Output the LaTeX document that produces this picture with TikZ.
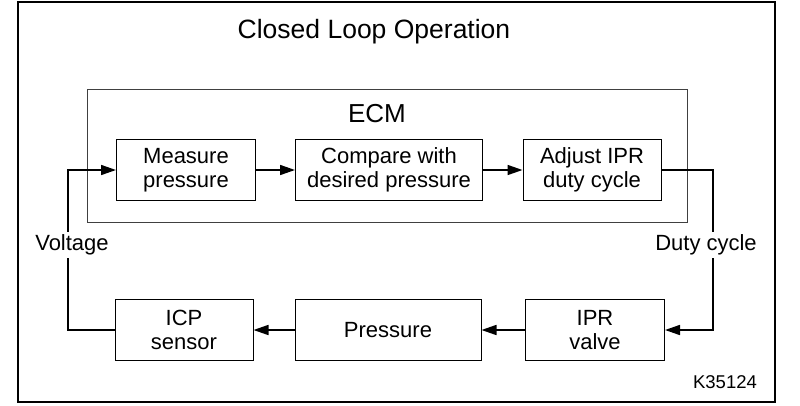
\documentclass[tikz,border=0pt]{standalone}
\usepackage{fontspec}
\setmainfont{Liberation Sans}
\usetikzlibrary{arrows.meta}

\begin{document}
\begin{tikzpicture}[x=1pt,y=-1pt]
\useasboundingbox (0,0) rectangle (800,405);
\draw[line width=2.2pt] (18,2) rectangle (775,402);
\node (title) at (374,32) {\fontsize{26.5}{30}\selectfont Closed Loop Operation};
\draw[line width=0.9pt,black!75] (87,89) rectangle (687,222);
\node (ecm) at (377,114) {\fontsize{26}{30}\selectfont ECM};
\begin{scope}[every node/.style={draw,line width=1pt,minimum height=61pt,align=center,
              inner sep=0pt,font=\fontsize{22}{24}\selectfont}]
    \node[minimum width=139pt] (measure) at (186,170) {Measure\\pressure};
    \node[minimum width=187pt] (compare) at (389,170) {Compare with\\desired pressure};
    \node[minimum width=138pt] (adjust) at (592,170) {Adjust IPR\\duty cycle};
    \node[minimum width=139pt] (ipr) at (595,330) {IPR\\valve};
    \node[minimum width=186pt] (pressure) at (388,330) {Pressure};
    \node[minimum width=138pt] (icp) at (184,330) {ICP\\sensor};
\end{scope}
\coordinate (cduty) at (713,248);
\coordinate (cvolt) at (68,248);
\begin{scope}[every edge/.style={draw,line width=1.6pt,-{Triangle[length=15pt,width=10pt]}}]
    \path (measure) edge (compare);
    \path (compare) edge (adjust);
    \path (ipr) edge (pressure);
    \path (pressure) edge (icp);
\end{scope}
\draw[line width=1.6pt,-{Triangle[length=15pt,width=10pt]}] (adjust) -| (cduty) |- (ipr);
\draw[line width=1.6pt,-{Triangle[length=15pt,width=10pt]}] (icp) -| (cvolt) |- (measure);
\begin{scope}[every node/.style={fill=white,inner sep=3pt,font=\fontsize{22}{24}\selectfont}]
    \node (duty) at (706,245) {Duty cycle};
    \node (volt) at (72,245) {Voltage};
\end{scope}
\node (code) at (725,382) {\fontsize{18.5}{21}\selectfont K35124};
\end{tikzpicture}
\end{document}
